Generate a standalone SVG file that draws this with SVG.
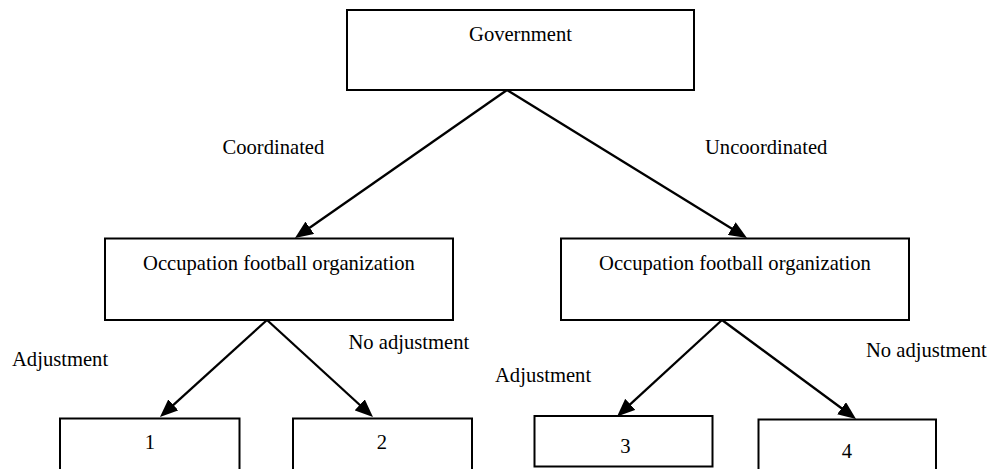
<svg xmlns="http://www.w3.org/2000/svg" width="990" height="469" viewBox="0 0 990 469">
<style>
.box{fill:#fff;stroke:#000;stroke-width:2}
.lbl{font-family:"Liberation Serif","Times New Roman",serif;font-size:20.6px;fill:#000}
.c{text-anchor:middle}
.edge{stroke:#000;stroke-width:2.3;fill:none;marker-end:url(#ah)}
</style>
<defs>
<marker id="ah" markerUnits="userSpaceOnUse" markerWidth="18" markerHeight="15" refX="8" refY="7.5" orient="auto" viewBox="0 0 18 15">
<path d="M0,0 L18,7.5 L0,15 z" fill="#000"/>
</marker>
</defs>
<rect width="990" height="469" fill="#fff"/>
<g id="government">
<rect class="box" x="347" y="10" width="347" height="80"/>
<text class="lbl c" x="520.5" y="40.5">Government</text>
</g>
<g id="ofo-left">
<rect class="box" x="105" y="238.5" width="348" height="81.5"/>
<text class="lbl c" x="279" y="270">Occupation football organization</text>
</g>
<g id="ofo-right">
<rect class="box" x="561" y="238.5" width="348" height="81.5"/>
<text class="lbl c" x="735" y="270">Occupation football organization</text>
</g>
<g id="n1">
<rect class="box" x="60" y="418.5" width="179.5" height="70"/>
<text class="lbl c" x="150" y="449">1</text>
</g>
<g id="n2">
<rect class="box" x="293" y="418.5" width="179" height="70"/>
<text class="lbl c" x="382" y="449">2</text>
</g>
<g id="n3">
<rect class="box" x="534.5" y="416" width="178" height="50.5"/>
<text class="lbl c" x="625.5" y="453">3</text>
</g>
<g id="n4">
<rect class="box" x="758.5" y="419.5" width="177.5" height="70"/>
<text class="lbl c" x="847" y="458">4</text>
</g>
<g id="connectors">
<line class="edge" x1="507" y1="90" x2="303.2" y2="232.3"/>
<line class="edge" x1="507" y1="90" x2="738.5" y2="232.75"/>
<line class="edge" x1="267" y1="320" x2="167.4" y2="410.3"/>
<line class="edge" x1="267" y1="320" x2="365.6" y2="410.25"/>
<line class="edge" x1="722" y1="320" x2="624.4" y2="409.7"/>
<line class="edge" x1="722" y1="320" x2="848" y2="413"/>
</g>
<g id="labels">
<text class="lbl" x="222.5" y="154">Coordinated</text>
<text class="lbl" x="705" y="154">Uncoordinated</text>
<text class="lbl" x="12" y="366">Adjustment</text>
<text class="lbl" x="348.5" y="348.5">No adjustment</text>
<text class="lbl" x="495" y="381.5">Adjustment</text>
<text class="lbl" x="866" y="356.5">No adjustment</text>
</g>
</svg>
